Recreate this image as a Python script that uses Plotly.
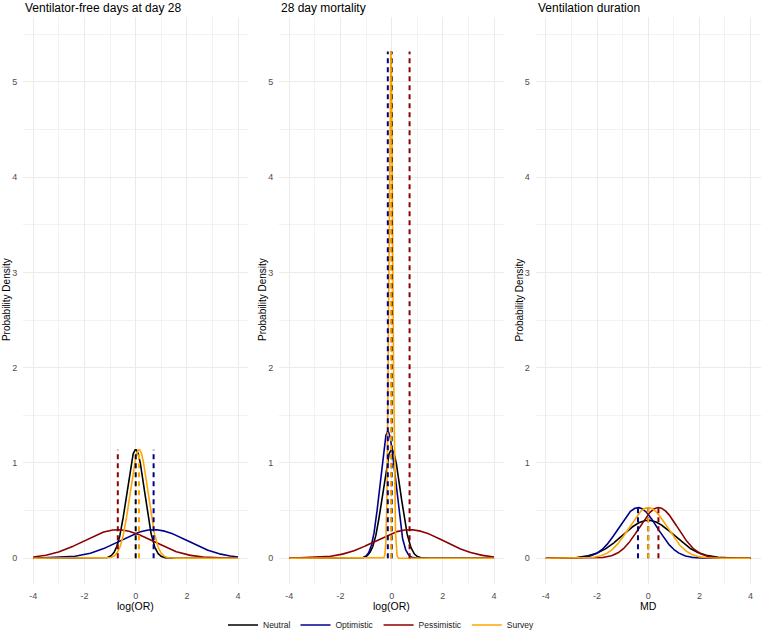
import numpy as np
import plotly.graph_objects as go

# ---- data ----
panels = ["Ventilator-free days at day 28", "28 day mortality", "Ventilation duration"]
x_titles = ["log(OR)", "log(OR)", "MD"]
priors = ["Neutral", "Optimistic", "Pessimistic", "Survey"]
colors = ["#000000", "#00008B", "#8B0000", "#FFA500"]

# normal prior means and SDs per panel (order: Neutral, Optimistic, Pessimistic, Survey)
vfd_mean = [0.0, 0.70, -0.70, 0.13]
vfd_sd = [0.35, 1.33, 1.33, 0.35]
mort_mean = [0.0, -0.15, 0.70, -0.03]
mort_sd = [0.35, 0.30, 1.33, 0.075]
md_mean = [0.0, -0.40, 0.40, 0.0]
md_sd = [1.0, 0.75, 0.75, 0.75]

means = [vfd_mean, mort_mean, md_mean]
sds = [vfd_sd, mort_sd, md_sd]

x_grid = np.linspace(-4, 4, 1601)


def npdf(x, m, s):
    return np.exp(-0.5 * ((x - m) / s) ** 2) / (s * np.sqrt(2 * np.pi))


W, H = 763, 632
# panel pixel boxes
px_left = [23.1, 279.0, 535.6]
px_right = [248.3, 504.3, 760.8]
py_top, py_bot = 17.0, 584.0

fig = go.Figure()

for p in range(3):
    ax = "" if p == 0 else str(p + 1)
    curves = [npdf(x_grid, means[p][i], sds[p][i]) for i in range(4)]
    ymax = max(c.max() for c in curves)
    for i in range(4):
        fig.add_trace(go.Scatter(
            x=x_grid, y=curves[i], mode="lines",
            line=dict(color=colors[i], width=1.6),
            name=priors[i], legendgroup=priors[i], showlegend=(p == 0),
            xaxis="x" + ax, yaxis="y" + ax, hoverinfo="skip"))
    for i in range(4):
        fig.add_trace(go.Scatter(
            x=[means[p][i], means[p][i]], y=[0, ymax], mode="lines",
            line=dict(color=colors[i], width=2, dash="5px,4px"),
            name=priors[i], legendgroup=priors[i], showlegend=False,
            xaxis="x" + ax, yaxis="y" + ax, hoverinfo="skip"))

layout = dict(
    width=W, height=H,
    margin=dict(l=0, r=0, t=0, b=0, autoexpand=False),
    paper_bgcolor="white", plot_bgcolor="white",
    font=dict(family="Liberation Sans, Arial, sans-serif", color="#000000"),
    showlegend=True,
    legend=dict(orientation="h", x=0.5, xanchor="center",
                yref="container", y=1 - 625 / H, yanchor="middle",
                font=dict(size=8.5, color="#1A1A1A"), bgcolor="rgba(0,0,0,0)",
                tracegroupgap=0, itemwidth=30),
)

annotations = []
for p in range(3):
    ax = "" if p == 0 else str(p + 1)
    xd = [px_left[p] / W, px_right[p] / W]
    yd = [1 - py_bot / H, 1 - py_top / H]
    layout["xaxis" + ax] = dict(
        domain=xd, anchor="y" + ax, range=[-4.4, 4.4],
        tickvals=[-4, -2, 0, 2, 4], ticktext=["-4", "-2", "0", "2", "4"],
        showline=False, zeroline=False, ticks="outside", ticklen=3,
        tickcolor="rgba(0,0,0,0)",
        showgrid=True, gridcolor="#EBEBEB", gridwidth=1,
        minor=dict(dtick=1, tick0=0, showgrid=True, gridcolor="#F2F2F2", gridwidth=0.6,
                   ticks=""),
        tickfont=dict(size=9, color="#4D4D4D"),
        automargin=False,
    )
    layout["yaxis" + ax] = dict(
        domain=yd, anchor="x" + ax, range=[-0.27, 5.68],
        tickvals=[0, 1, 2, 3, 4, 5],
        showline=False, zeroline=False, ticks="outside", ticklen=3,
        tickcolor="rgba(0,0,0,0)",
        showgrid=True, gridcolor="#EBEBEB", gridwidth=1,
        minor=dict(dtick=0.5, tick0=0, showgrid=True, gridcolor="#F2F2F2", gridwidth=0.6,
                   ticks=""),
        tickfont=dict(size=9, color="#4D4D4D"),
        automargin=False,
    )
    annotations.append(dict(
        text=panels[p], xref="paper", yref="paper",
        x=px_left[p] / W, y=1 - 8 / H, xanchor="left", yanchor="middle",
        showarrow=False, font=dict(size=12, color="#000000")))
    annotations.append(dict(
        text="Probability Density", xref="paper", yref="paper",
        x=(px_left[p] - 17) / W, y=1 - 300 / H, xanchor="center", yanchor="middle",
        textangle=-90, showarrow=False, font=dict(size=10, color="#000000")))
    annotations.append(dict(
        text=x_titles[p], xref="paper", yref="paper",
        x=(px_left[p] + px_right[p]) / 2 / W, y=1 - 606 / H,
        xanchor="center", yanchor="middle",
        showarrow=False, font=dict(size=10.5, color="#000000")))

layout["annotations"] = annotations
fig.update_layout(**layout)
fig.write_html("out.html")
